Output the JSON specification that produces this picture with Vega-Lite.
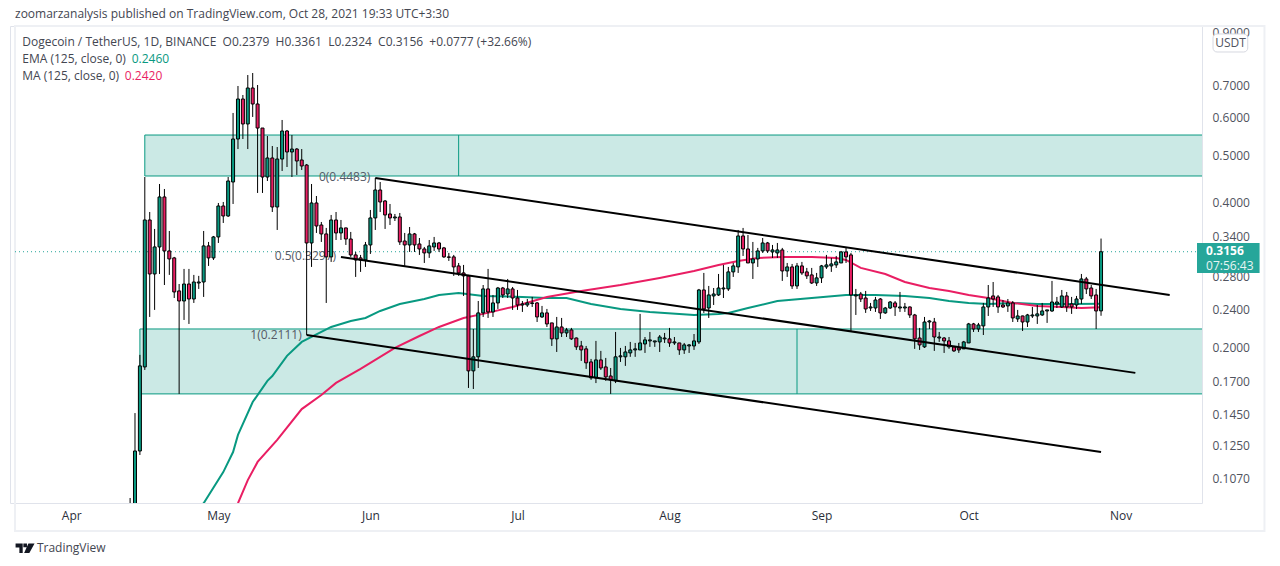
{"$schema":"https://vega.github.io/schema/vega-lite/v6.json","width":1192,"height":477,"autosize":"none","padding":{"left":10,"top":26,"right":78,"bottom":63},"background":"#ffffff","view":{"stroke":"#e0e3eb","strokeWidth":1},"config":{"font":"Open Sans"},
"datasets":{
"frame":[{"d":"2021-03-20T12:42:00Z","d2":"2021-11-30T08:00:00Z","p":0.928,"p2":0.0831}],
"zones":[{"d":"2021-04-16","d2":"2021-12-20","p":0.5512,"p2":0.4532},{"d":"2021-04-15","d2":"2021-12-20","p":0.2182,"p2":0.16}],
"dividers":[{"d":"2021-06-19","p":0.5512,"p2":0.4532},{"d":"2021-08-27","p":0.2182,"p2":0.16}],
"last":[{"d":"2021-03-20T12:42:00Z","d2":"2021-11-16T13:40:00Z","p":0.3156}],
"fib":[{"d":"2021-06-01","p":0.451,"t":"0(0.4483)"},{"d":"2021-05-25","p":0.3093,"t":"0.5(0.3297)"},{"d":"2021-05-18","p":0.212,"t":"1(0.2111)"}],
"ema":[{"d":"2021-04-25","p":0.088},{"d":"2021-04-28","p":0.0949},{"d":"2021-05-02","p":0.1101},{"d":"2021-05-04","p":0.1212},{"d":"2021-05-05","p":0.1315},{"d":"2021-05-08","p":0.1539},{"d":"2021-05-11","p":0.1703},{"d":"2021-05-12","p":0.1743},{"d":"2021-05-15","p":0.1919},{"d":"2021-05-18","p":0.2051},{"d":"2021-05-24","p":0.2203},{"d":"2021-05-28","p":0.2267},{"d":"2021-05-31","p":0.23},{"d":"2021-06-03","p":0.2378},{"d":"2021-06-07","p":0.2459},{"d":"2021-06-12","p":0.2518},{"d":"2021-06-15","p":0.2567},{"d":"2021-06-19","p":0.2592},{"d":"2021-06-24","p":0.2555},{"d":"2021-07-02","p":0.2543},{"d":"2021-07-07","p":0.253},{"d":"2021-07-11","p":0.253},{"d":"2021-07-16","p":0.2459},{"d":"2021-07-22","p":0.2401},{"d":"2021-07-28","p":0.2367},{"d":"2021-08-06","p":0.2333},{"d":"2021-08-11","p":0.2345},{"d":"2021-08-13","p":0.2356},{"d":"2021-08-17","p":0.2412},{"d":"2021-08-23","p":0.2494},{"d":"2021-08-30","p":0.253},{"d":"2021-09-06","p":0.2567},{"d":"2021-09-12","p":0.2567},{"d":"2021-09-18","p":0.2555},{"d":"2021-09-23","p":0.253},{"d":"2021-09-27","p":0.2494},{"d":"2021-10-01","p":0.2471},{"d":"2021-10-05","p":0.2459},{"d":"2021-10-10","p":0.2471},{"d":"2021-10-15","p":0.2459},{"d":"2021-10-22","p":0.2459},{"d":"2021-10-28","p":0.246}],
"ma":[{"d":"2021-05-03","p":0.088},{"d":"2021-05-05","p":0.0949},{"d":"2021-05-07","p":0.106},{"d":"2021-05-09","p":0.1156},{"d":"2021-05-13","p":0.1284},{"d":"2021-05-18","p":0.1488},{"d":"2021-05-22","p":0.1592},{"d":"2021-05-25","p":0.1686},{"d":"2021-05-30","p":0.1803},{"d":"2021-06-06","p":0.1993},{"d":"2021-06-11","p":0.211},{"d":"2021-06-15","p":0.2203},{"d":"2021-06-20","p":0.23},{"d":"2021-06-24","p":0.2345},{"d":"2021-06-30","p":0.2424},{"d":"2021-07-07","p":0.2543},{"d":"2021-07-14","p":0.2617},{"d":"2021-07-22","p":0.2692},{"d":"2021-07-30","p":0.2785},{"d":"2021-08-06","p":0.2879},{"d":"2021-08-11","p":0.2963},{"d":"2021-08-15","p":0.302},{"d":"2021-08-19","p":0.3064},{"d":"2021-08-24","p":0.3079},{"d":"2021-08-30","p":0.3079},{"d":"2021-09-04","p":0.3064},{"d":"2021-09-06","p":0.3034},{"d":"2021-09-09","p":0.2921},{"d":"2021-09-14","p":0.2838},{"d":"2021-09-18","p":0.2731},{"d":"2021-09-23","p":0.2654},{"d":"2021-09-27","p":0.2617},{"d":"2021-10-01","p":0.2567},{"d":"2021-10-05","p":0.253},{"d":"2021-10-10","p":0.2471},{"d":"2021-10-15","p":0.2436},{"d":"2021-10-20","p":0.2424},{"d":"2021-10-24","p":0.2412},{"d":"2021-10-28","p":0.242}],
"channels":[{"k":"a","d":"2021-06-02","p":0.4489},{"k":"a","d":"2021-11-11","p":0.2567},{"k":"b","d":"2021-05-26","p":0.3079},{"k":"b","d":"2021-11-04","p":0.1769},{"k":"c","d":"2021-05-19","p":0.212},{"k":"c","d":"2021-10-28","p":0.1212}],
"candles":[
{"d":"2021-04-13","o":0.085,"h":0.0973,"l":0.08,"c":0.092},
{"d":"2021-04-14","o":0.092,"h":0.146,"l":0.088,"c":0.1218},
{"d":"2021-04-15","o":0.1218,"h":0.1928,"l":0.1195,"c":0.1829},
{"d":"2021-04-16","o":0.182,"h":0.451,"l":0.1794,"c":0.3673},
{"d":"2021-04-17","o":0.3673,"h":0.3816,"l":0.2311,"c":0.2838},
{"d":"2021-04-18","o":0.2838,"h":0.3519,"l":0.239,"c":0.3229},
{"d":"2021-04-19","o":0.3229,"h":0.4362,"l":0.2838,"c":0.41},
{"d":"2021-04-20","o":0.41,"h":0.4259,"l":0.2692,"c":0.3168},
{"d":"2021-04-21","o":0.3168,"h":0.3485,"l":0.2825,"c":0.3049},
{"d":"2021-04-22","o":0.3064,"h":0.3079,"l":0.253,"c":0.2604},
{"d":"2021-04-23","o":0.2617,"h":0.2705,"l":0.16,"c":0.2494},
{"d":"2021-04-24","o":0.2494,"h":0.2907,"l":0.2278,"c":0.2705},
{"d":"2021-04-25","o":0.2705,"h":0.2907,"l":0.2235,"c":0.2518},
{"d":"2021-04-26","o":0.2518,"h":0.2825,"l":0.2471,"c":0.2731},
{"d":"2021-04-27","o":0.2718,"h":0.2812,"l":0.2642,"c":0.2731},
{"d":"2021-04-28","o":0.2731,"h":0.3485,"l":0.2543,"c":0.3245},
{"d":"2021-04-29","o":0.3245,"h":0.3307,"l":0.2949,"c":0.3064},
{"d":"2021-04-30","o":0.3064,"h":0.3403,"l":0.3034,"c":0.3387},
{"d":"2021-05-01","o":0.3387,"h":0.3984,"l":0.3291,"c":0.3927},
{"d":"2021-05-02","o":0.3927,"h":0.4003,"l":0.3621,"c":0.3744},
{"d":"2021-05-03","o":0.3744,"h":0.451,"l":0.3726,"c":0.4425},
{"d":"2021-05-04","o":0.4404,"h":0.6125,"l":0.3965,"c":0.5408},
{"d":"2021-05-05","o":0.5408,"h":0.6967,"l":0.5155,"c":0.6547},
{"d":"2021-05-06","o":0.6547,"h":0.6674,"l":0.5408,"c":0.5811},
{"d":"2021-05-07","o":0.5811,"h":0.7342,"l":0.5155,"c":0.6901},
{"d":"2021-05-08","o":0.6901,"h":0.7413,"l":0.6009,"c":0.6393},
{"d":"2021-05-09","o":0.6393,"h":0.7,"l":0.4179,"c":0.5699},
{"d":"2021-05-10","o":0.5699,"h":0.5699,"l":0.4179,"c":0.451},
{"d":"2021-05-11","o":0.451,"h":0.5486,"l":0.4425,"c":0.4939},
{"d":"2021-05-12","o":0.4939,"h":0.523,"l":0.3816,"c":0.3908},
{"d":"2021-05-13","o":0.3908,"h":0.5205,"l":0.3502,"c":0.4915},
{"d":"2021-05-14","o":0.4915,"h":0.5923,"l":0.4642,"c":0.5619},
{"d":"2021-05-15","o":0.5619,"h":0.5646,"l":0.4731,"c":0.5083},
{"d":"2021-05-16","o":0.5083,"h":0.5512,"l":0.451,"c":0.5155},
{"d":"2021-05-17","o":0.5155,"h":0.518,"l":0.4554,"c":0.4869},
{"d":"2021-05-18","o":0.4892,"h":0.5155,"l":0.4664,"c":0.4754},
{"d":"2021-05-19","o":0.4776,"h":0.48,"l":0.212,"c":0.3291},
{"d":"2021-05-20","o":0.3291,"h":0.4362,"l":0.2935,"c":0.3984},
{"d":"2021-05-21","o":0.3984,"h":0.4119,"l":0.3452,"c":0.3569},
{"d":"2021-05-22","o":0.3586,"h":0.3638,"l":0.3307,"c":0.3436},
{"d":"2021-05-23","o":0.3436,"h":0.3536,"l":0.2471,"c":0.3079},
{"d":"2021-05-24","o":0.3079,"h":0.3762,"l":0.3006,"c":0.3673},
{"d":"2021-05-25","o":0.3673,"h":0.3816,"l":0.3338,"c":0.3452},
{"d":"2021-05-26","o":0.3452,"h":0.3673,"l":0.3338,"c":0.3536},
{"d":"2021-05-27","o":0.3536,"h":0.354,"l":0.326,"c":0.3354},
{"d":"2021-05-28","o":0.3354,"h":0.3469,"l":0.3079,"c":0.3108},
{"d":"2021-05-29","o":0.3108,"h":0.3153,"l":0.2798,"c":0.3034},
{"d":"2021-05-30","o":0.3064,"h":0.3108,"l":0.2866,"c":0.3034},
{"d":"2021-05-31","o":0.3034,"h":0.3307,"l":0.2935,"c":0.326},
{"d":"2021-06-01","o":0.326,"h":0.3853,"l":0.3123,"c":0.3709},
{"d":"2021-06-02","o":0.3709,"h":0.4489,"l":0.3502,"c":0.4239},
{"d":"2021-06-03","o":0.4239,"h":0.4404,"l":0.3816,"c":0.4003},
{"d":"2021-06-04","o":0.4022,"h":0.4041,"l":0.3519,"c":0.3762},
{"d":"2021-06-05","o":0.378,"h":0.3965,"l":0.3586,"c":0.3709},
{"d":"2021-06-06","o":0.3709,"h":0.378,"l":0.3655,"c":0.3726},
{"d":"2021-06-07","o":0.3726,"h":0.3798,"l":0.326,"c":0.3307},
{"d":"2021-06-08","o":0.3322,"h":0.3452,"l":0.2949,"c":0.326},
{"d":"2021-06-09","o":0.326,"h":0.3552,"l":0.3153,"c":0.3436},
{"d":"2021-06-10","o":0.3436,"h":0.3452,"l":0.3153,"c":0.326},
{"d":"2021-06-11","o":0.3275,"h":0.337,"l":0.3108,"c":0.3198},
{"d":"2021-06-12","o":0.3198,"h":0.3229,"l":0.2991,"c":0.3138},
{"d":"2021-06-13","o":0.3138,"h":0.3338,"l":0.3064,"c":0.3245},
{"d":"2021-06-14","o":0.3229,"h":0.3387,"l":0.3168,"c":0.3291},
{"d":"2021-06-15","o":0.3291,"h":0.3307,"l":0.3153,"c":0.3198},
{"d":"2021-06-16","o":0.3214,"h":0.3229,"l":0.3064,"c":0.3079},
{"d":"2021-06-17","o":0.3079,"h":0.3138,"l":0.302,"c":0.3072},
{"d":"2021-06-18","o":0.3079,"h":0.3108,"l":0.2812,"c":0.2935},
{"d":"2021-06-19","o":0.2949,"h":0.2991,"l":0.2812,"c":0.2852},
{"d":"2021-06-20","o":0.2852,"h":0.2963,"l":0.2555,"c":0.2812},
{"d":"2021-06-21","o":0.2812,"h":0.2825,"l":0.1646,"c":0.1786},
{"d":"2021-06-22","o":0.1786,"h":0.2182,"l":0.1638,"c":0.191},
{"d":"2021-06-23","o":0.191,"h":0.2494,"l":0.1811,"c":0.2356},
{"d":"2021-06-24","o":0.2356,"h":0.2692,"l":0.2311,"c":0.2642},
{"d":"2021-06-25","o":0.2642,"h":0.2907,"l":0.23,"c":0.2367},
{"d":"2021-06-26","o":0.2367,"h":0.2567,"l":0.2311,"c":0.2471},
{"d":"2021-06-27","o":0.2471,"h":0.2667,"l":0.2401,"c":0.2654},
{"d":"2021-06-28","o":0.2654,"h":0.2667,"l":0.253,"c":0.2567},
{"d":"2021-06-29","o":0.2579,"h":0.2771,"l":0.253,"c":0.2642},
{"d":"2021-06-30","o":0.2642,"h":0.2667,"l":0.239,"c":0.253},
{"d":"2021-07-01","o":0.253,"h":0.2629,"l":0.239,"c":0.2447},
{"d":"2021-07-02","o":0.2447,"h":0.2494,"l":0.2367,"c":0.2459},
{"d":"2021-07-03","o":0.2447,"h":0.2518,"l":0.2424,"c":0.2471},
{"d":"2021-07-04","o":0.2464,"h":0.2543,"l":0.2424,"c":0.2471},
{"d":"2021-07-05","o":0.2471,"h":0.2482,"l":0.2256,"c":0.2311},
{"d":"2021-07-06","o":0.2311,"h":0.2436,"l":0.23,"c":0.2356},
{"d":"2021-07-07","o":0.2356,"h":0.2401,"l":0.2203,"c":0.2235},
{"d":"2021-07-08","o":0.2246,"h":0.2246,"l":0.2012,"c":0.2081},
{"d":"2021-07-09","o":0.2081,"h":0.2311,"l":0.1955,"c":0.2203},
{"d":"2021-07-10","o":0.2203,"h":0.23,"l":0.21,"c":0.2141},
{"d":"2021-07-11","o":0.2141,"h":0.2193,"l":0.21,"c":0.2172},
{"d":"2021-07-12","o":0.2172,"h":0.2193,"l":0.2071,"c":0.2081},
{"d":"2021-07-13","o":0.209,"h":0.2095,"l":0.1974,"c":0.2003},
{"d":"2021-07-14","o":0.2012,"h":0.2061,"l":0.1873,"c":0.1974},
{"d":"2021-07-15","o":0.1984,"h":0.2012,"l":0.1803,"c":0.1856},
{"d":"2021-07-16","o":0.1864,"h":0.1891,"l":0.1711,"c":0.1727},
{"d":"2021-07-17","o":0.1727,"h":0.2061,"l":0.1685,"c":0.1882},
{"d":"2021-07-18","o":0.1882,"h":0.1965,"l":0.1794,"c":0.1811},
{"d":"2021-07-19","o":0.182,"h":0.19,"l":0.1703,"c":0.1735},
{"d":"2021-07-20","o":0.1743,"h":0.1811,"l":0.16,"c":0.1711},
{"d":"2021-07-21","o":0.1703,"h":0.2151,"l":0.1685,"c":0.191},
{"d":"2021-07-22","o":0.191,"h":0.1993,"l":0.1864,"c":0.1919},
{"d":"2021-07-23","o":0.191,"h":0.2012,"l":0.1829,"c":0.1955},
{"d":"2021-07-24","o":0.1946,"h":0.2051,"l":0.191,"c":0.1974},
{"d":"2021-07-25","o":0.1974,"h":0.2041,"l":0.191,"c":0.1984},
{"d":"2021-07-26","o":0.1974,"h":0.2345,"l":0.1974,"c":0.2041},
{"d":"2021-07-27","o":0.2031,"h":0.21,"l":0.1946,"c":0.2071},
{"d":"2021-07-28","o":0.2061,"h":0.2151,"l":0.2003,"c":0.2071},
{"d":"2021-07-29","o":0.2051,"h":0.2061,"l":0.2003,"c":0.2061},
{"d":"2021-07-30","o":0.2051,"h":0.212,"l":0.1955,"c":0.21},
{"d":"2021-07-31","o":0.2081,"h":0.2141,"l":0.2041,"c":0.209},
{"d":"2021-08-01","o":0.2081,"h":0.2193,"l":0.2003,"c":0.2041},
{"d":"2021-08-02","o":0.2041,"h":0.21,"l":0.2022,"c":0.2051},
{"d":"2021-08-03","o":0.2041,"h":0.2041,"l":0.1928,"c":0.1974},
{"d":"2021-08-04","o":0.1974,"h":0.2041,"l":0.1937,"c":0.2022},
{"d":"2021-08-05","o":0.2012,"h":0.2031,"l":0.1946,"c":0.2022},
{"d":"2021-08-06","o":0.2012,"h":0.213,"l":0.1974,"c":0.2061},
{"d":"2021-08-07","o":0.2051,"h":0.2642,"l":0.2031,"c":0.2629},
{"d":"2021-08-08","o":0.2629,"h":0.2852,"l":0.2356,"c":0.2401},
{"d":"2021-08-09","o":0.2412,"h":0.268,"l":0.23,"c":0.2567},
{"d":"2021-08-10","o":0.2555,"h":0.2654,"l":0.2447,"c":0.2579},
{"d":"2021-08-11","o":0.2567,"h":0.2838,"l":0.2555,"c":0.2654},
{"d":"2021-08-12","o":0.2642,"h":0.2963,"l":0.253,"c":0.2654},
{"d":"2021-08-13","o":0.2642,"h":0.2935,"l":0.2617,"c":0.2866},
{"d":"2021-08-14","o":0.2866,"h":0.2991,"l":0.2798,"c":0.2949},
{"d":"2021-08-15","o":0.2935,"h":0.3502,"l":0.2852,"c":0.3403},
{"d":"2021-08-16","o":0.3403,"h":0.3536,"l":0.3093,"c":0.3198},
{"d":"2021-08-17","o":0.3198,"h":0.3419,"l":0.2991,"c":0.2991},
{"d":"2021-08-18","o":0.2991,"h":0.3307,"l":0.2771,"c":0.3049},
{"d":"2021-08-19","o":0.3049,"h":0.3214,"l":0.2935,"c":0.3168},
{"d":"2021-08-20","o":0.3168,"h":0.337,"l":0.3138,"c":0.3291},
{"d":"2021-08-21","o":0.3291,"h":0.3307,"l":0.3138,"c":0.3168},
{"d":"2021-08-22","o":0.3153,"h":0.326,"l":0.3064,"c":0.3183},
{"d":"2021-08-23","o":0.3138,"h":0.3291,"l":0.3064,"c":0.3183},
{"d":"2021-08-24","o":0.3183,"h":0.3214,"l":0.2745,"c":0.2879},
{"d":"2021-08-25","o":0.2879,"h":0.2991,"l":0.2798,"c":0.2935},
{"d":"2021-08-26","o":0.2935,"h":0.2977,"l":0.2642,"c":0.268},
{"d":"2021-08-27","o":0.268,"h":0.2991,"l":0.2642,"c":0.2949},
{"d":"2021-08-28","o":0.2949,"h":0.3006,"l":0.2825,"c":0.2852},
{"d":"2021-08-29","o":0.2866,"h":0.2921,"l":0.2771,"c":0.2812},
{"d":"2021-08-30","o":0.2825,"h":0.2921,"l":0.2705,"c":0.2718},
{"d":"2021-08-31","o":0.2718,"h":0.2852,"l":0.268,"c":0.2785},
{"d":"2021-09-01","o":0.2785,"h":0.2963,"l":0.2718,"c":0.2949},
{"d":"2021-09-02","o":0.2935,"h":0.3108,"l":0.2907,"c":0.2963},
{"d":"2021-09-03","o":0.2949,"h":0.3064,"l":0.2866,"c":0.2977},
{"d":"2021-09-04","o":0.2963,"h":0.3093,"l":0.2921,"c":0.3006},
{"d":"2021-09-05","o":0.2991,"h":0.3168,"l":0.2991,"c":0.3153},
{"d":"2021-09-06","o":0.3153,"h":0.3214,"l":0.2991,"c":0.3079},
{"d":"2021-09-07","o":0.3108,"h":0.3138,"l":0.2161,"c":0.2567},
{"d":"2021-09-08","o":0.2555,"h":0.2642,"l":0.2333,"c":0.2567},
{"d":"2021-09-09","o":0.2579,"h":0.2604,"l":0.2482,"c":0.2518},
{"d":"2021-09-10","o":0.253,"h":0.2617,"l":0.2356,"c":0.2401},
{"d":"2021-09-11","o":0.2412,"h":0.2471,"l":0.2378,"c":0.2424},
{"d":"2021-09-12","o":0.2412,"h":0.2543,"l":0.2367,"c":0.2506},
{"d":"2021-09-13","o":0.2518,"h":0.253,"l":0.2289,"c":0.2356},
{"d":"2021-09-14","o":0.2356,"h":0.2424,"l":0.2345,"c":0.2412},
{"d":"2021-09-15","o":0.2412,"h":0.2494,"l":0.2401,"c":0.2482},
{"d":"2021-09-16","o":0.2471,"h":0.2494,"l":0.2322,"c":0.2424},
{"d":"2021-09-17","o":0.2412,"h":0.2604,"l":0.2367,"c":0.2424},
{"d":"2021-09-18","o":0.2412,"h":0.2471,"l":0.2367,"c":0.2424},
{"d":"2021-09-19","o":0.2424,"h":0.243,"l":0.23,"c":0.2333},
{"d":"2021-09-20","o":0.2333,"h":0.2345,"l":0.1984,"c":0.2081},
{"d":"2021-09-21","o":0.209,"h":0.2193,"l":0.1974,"c":0.2022},
{"d":"2021-09-22","o":0.2003,"h":0.2311,"l":0.1993,"c":0.2256},
{"d":"2021-09-23","o":0.2256,"h":0.2278,"l":0.2182,"c":0.2267},
{"d":"2021-09-24","o":0.2256,"h":0.23,"l":0.1965,"c":0.21},
{"d":"2021-09-25","o":0.209,"h":0.2151,"l":0.2051,"c":0.21},
{"d":"2021-09-26","o":0.209,"h":0.21,"l":0.1946,"c":0.2061},
{"d":"2021-09-27","o":0.2061,"h":0.21,"l":0.1984,"c":0.2003},
{"d":"2021-09-28","o":0.2003,"h":0.2012,"l":0.1955,"c":0.1965},
{"d":"2021-09-29","o":0.1993,"h":0.2041,"l":0.1946,"c":0.1974},
{"d":"2021-09-30","o":0.1984,"h":0.2061,"l":0.1984,"c":0.2051},
{"d":"2021-10-01","o":0.2041,"h":0.2246,"l":0.2041,"c":0.2235},
{"d":"2021-10-02","o":0.2235,"h":0.2246,"l":0.2151,"c":0.2182},
{"d":"2021-10-03","o":0.2182,"h":0.2246,"l":0.2151,"c":0.2224},
{"d":"2021-10-04","o":0.2214,"h":0.2471,"l":0.212,"c":0.2424},
{"d":"2021-10-05","o":0.2424,"h":0.2692,"l":0.2322,"c":0.253},
{"d":"2021-10-06","o":0.2555,"h":0.2731,"l":0.2424,"c":0.2518},
{"d":"2021-10-07","o":0.2543,"h":0.2567,"l":0.2356,"c":0.2424},
{"d":"2021-10-08","o":0.2447,"h":0.2506,"l":0.2412,"c":0.2424},
{"d":"2021-10-09","o":0.2436,"h":0.2518,"l":0.2367,"c":0.2471},
{"d":"2021-10-10","o":0.2471,"h":0.2494,"l":0.2256,"c":0.23},
{"d":"2021-10-11","o":0.2289,"h":0.239,"l":0.2256,"c":0.2322},
{"d":"2021-10-12","o":0.2322,"h":0.2325,"l":0.2161,"c":0.2256},
{"d":"2021-10-13","o":0.2256,"h":0.2345,"l":0.2203,"c":0.2333},
{"d":"2021-10-14","o":0.2322,"h":0.2424,"l":0.23,"c":0.2333},
{"d":"2021-10-15","o":0.2322,"h":0.2447,"l":0.2235,"c":0.2345},
{"d":"2021-10-16","o":0.2333,"h":0.2471,"l":0.2322,"c":0.2378},
{"d":"2021-10-17","o":0.2378,"h":0.239,"l":0.2246,"c":0.239},
{"d":"2021-10-18","o":0.2378,"h":0.2745,"l":0.2367,"c":0.2482},
{"d":"2021-10-19","o":0.2459,"h":0.2543,"l":0.2412,"c":0.2482},
{"d":"2021-10-20","o":0.2424,"h":0.2629,"l":0.2412,"c":0.2555},
{"d":"2021-10-21","o":0.2555,"h":0.2604,"l":0.2367,"c":0.2424},
{"d":"2021-10-22","o":0.2459,"h":0.2543,"l":0.2345,"c":0.2424},
{"d":"2021-10-23","o":0.2447,"h":0.2555,"l":0.2401,"c":0.2518},
{"d":"2021-10-24","o":0.2518,"h":0.2838,"l":0.2459,"c":0.2771},
{"d":"2021-10-25","o":0.2771,"h":0.2798,"l":0.2579,"c":0.2642},
{"d":"2021-10-26","o":0.2654,"h":0.2692,"l":0.2518,"c":0.2555},
{"d":"2021-10-27","o":0.2567,"h":0.2642,"l":0.2182,"c":0.2378},
{"d":"2021-10-28","o":0.2379,"h":0.3361,"l":0.2324,"c":0.3156}],
"notes":[
{"d":"2021-03-20T12:42:00Z","p":0.983,"t":"zoomarzanalysis published on TradingView.com, Oct 28, 2021 19:33 UTC+3:30","g":"text"},
{"d":"2021-03-22","p":0.8596,"t":"Dogecoin / TetherUS, 1D, BINANCE \u00a0O0.2379 \u00a0H0.3361 \u00a0L0.2324 \u00a0C0.3156 \u00a0+0.0777 (+32.66%)","g":"text"},
{"d":"2021-03-22","p":0.7926,"t":"EMA (125, close, 0)","g":"text"},
{"d":"2021-04-13T08:00:00Z","p":0.7926,"t":"0.2460","g":"ema"},
{"d":"2021-03-22","p":0.7307,"t":"MA (125, close, 0)","g":"text"},
{"d":"2021-04-11T22:00:00Z","p":0.7307,"t":"0.2420","g":"ma"},
{"d":"2021-03-25","p":0.0766,"t":"TradingView","g":"text"},
{"d":"2021-11-18T10:00:00Z","p":0.295,"t":"07:56:43","g":"white"}],
"tag":[{"d":"2021-11-16T13:40:00Z","d2":"2021-11-29T08:00:00Z","p":0.3291,"p2":0.2852}],
"badge":[{"d":"2021-11-19T20:00:00Z","d2":"2021-11-26T22:00:00Z","p":0.8933,"p2":0.8196}],
"badgeText":[{"d":"2021-11-23T10:00:00Z","p":0.8556,"t":"USDT"}],
"price":[{"d":"2021-11-18T10:00:00Z","p":0.316,"t":"0.3156"}],
"logo":[{"d":"2021-03-22T14:00:00Z","p":0.0765}]
},
"encoding":{
"x":{"field":"d","type":"temporal","title":null,"scale":{"type":"utc","domain":["2021-03-20T12:42:00Z","2021-11-16T13:40:00Z"]},"axis":{"tickCount":"month","format":"%b","domain":false,"ticks":false,"grid":false,"labelColor":"#2a2e39","labelFontSize":12,"labelFont":"Open Sans","labelPadding":7,"labelFlush":false,"labelOverlap":false}},
"y":{"field":"p","type":"quantitative","title":null,"scale":{"type":"log","domain":[0.095,0.928]},"axis":{"orient":"right","values":[0.107,0.125,0.145,0.17,0.2,0.24,0.28,0.34,0.4,0.5,0.6,0.7,0.9],"format":".4f","domain":false,"ticks":false,"grid":false,"labelColor":"#50535e","labelFontSize":12,"labelFont":"Open Sans","labelPadding":10,"labelFlush":false,"labelOverlap":false}}
},
"layer":[
{"data":{"name":"frame"},"mark":{"type":"rect","fill":"transparent","stroke":"#eef0f4","strokeWidth":2,"clip":false},"encoding":{"x2":{"field":"d2"},"y2":{"field":"p2"}}},
{"data":{"name":"zones"},"mark":{"type":"rect","fill":"#cbe9e5","stroke":"#089981","strokeWidth":1,"clip":true},"encoding":{"x2":{"field":"d2"},"y2":{"field":"p2"}}},
{"data":{"name":"dividers"},"mark":{"type":"rule","stroke":"#089981","strokeWidth":1},"encoding":{"y2":{"field":"p2"}}},
{"data":{"name":"last"},"mark":{"type":"rule","stroke":"#26a69a","strokeWidth":1,"strokeDash":[1,3]},"encoding":{"x2":{"field":"d2"}}},
{"data":{"name":"fib"},"mark":{"type":"text","align":"right","baseline":"middle","fontSize":12,"font":"Open Sans","color":"#555a66"},"encoding":{"text":{"field":"t"}}},
{"data":{"name":"ema"},"mark":{"type":"line","stroke":"#089981","strokeWidth":2,"clip":true}},
{"data":{"name":"ma"},"mark":{"type":"line","stroke":"#e91e63","strokeWidth":2,"clip":true}},
{"data":{"name":"candles"},"mark":{"type":"rule","stroke":"#000000","strokeWidth":1,"clip":true},"encoding":{"y":{"field":"h","type":"quantitative","scale":{"type":"log","domain":[0.095,0.928]}},"y2":{"field":"l"}}},
{"data":{"name":"candles"},"mark":{"type":"bar","orient":"vertical","size":3,"stroke":"#000000","strokeWidth":1,"clip":true},"encoding":{"y":{"field":"o","type":"quantitative","scale":{"type":"log","domain":[0.095,0.928]}},"y2":{"field":"c"},"fill":{"condition":{"test":"datum.c >= datum.o","value":"#089981"},"value":"#e91e63"}}},
{"data":{"name":"channels"},"mark":{"type":"line","stroke":"#000000","strokeWidth":2},"encoding":{"detail":{"field":"k"}}},
{"data":{"name":"tag"},"mark":{"type":"rect","fill":"#26a69a","clip":false},"encoding":{"x2":{"field":"d2"},"y2":{"field":"p2"}}},
{"data":{"name":"badge"},"mark":{"type":"rect","fill":"#ffffff","stroke":"#d6d8e0","strokeWidth":1,"cornerRadius":4,"clip":false},"encoding":{"x2":{"field":"d2"},"y2":{"field":"p2"}}},
{"data":{"name":"badgeText"},"mark":{"type":"text","align":"center","baseline":"middle","fontSize":12,"font":"Open Sans","color":"#50535e"},"encoding":{"text":{"field":"t"}}},
{"data":{"name":"price"},"mark":{"type":"text","align":"left","baseline":"middle","fontSize":12,"font":"Open Sans","fontWeight":"bold","color":"#ffffff"},"encoding":{"text":{"field":"t"}}},
{"data":{"name":"notes"},"mark":{"type":"text","align":"left","baseline":"middle","fontSize":12,"font":"Open Sans"},"encoding":{"text":{"field":"t"},"color":{"field":"g","type":"nominal","legend":null,"scale":{"domain":["text","ema","ma","white"],"range":["#434651","#089981","#e91e63","#e6f5f3"]}}}},
{"data":{"name":"logo"},"mark":{"type":"point","shape":"M-1 -0.5H-0.25V0.5H-0.6V-0.1H-1Z M-0.18 -0.5H0.2V-0.12H-0.18Z M0.35 -0.5H1L0.45 0.5H-0.1Z","size":361,"filled":true,"fill":"#131722","stroke":null,"opacity":1,"clip":false}}
]}
